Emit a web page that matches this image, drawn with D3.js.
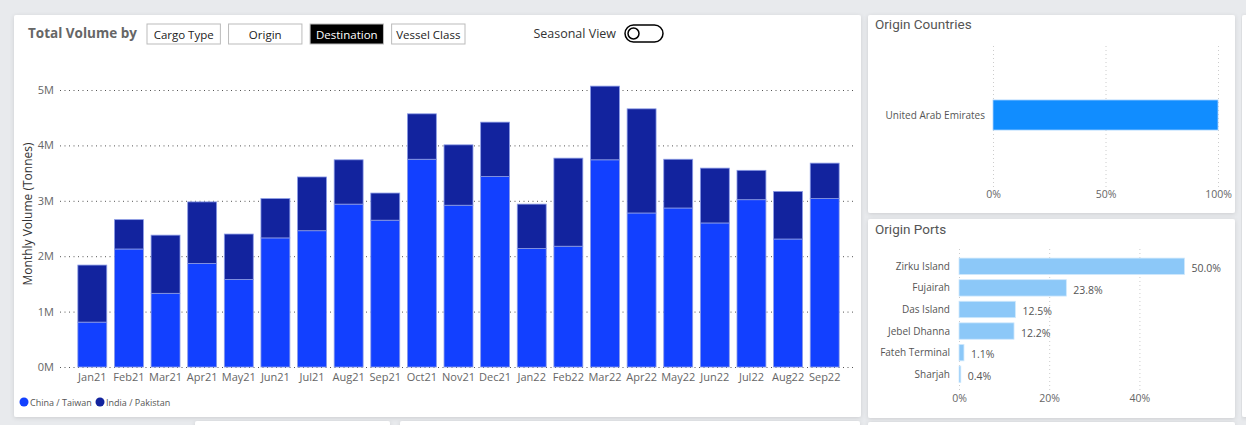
<!DOCTYPE html>
<html>
<head>
<meta charset="utf-8">
<script src="https://cdn.jsdelivr.net/npm/d3@7"></script>
<style>
  html, body { margin: 0; padding: 0; background: #e8eaed; }
  svg { display: block; font-family: "Segoe UI", "Open Sans", sans-serif; }
</style>
</head>
<body>
<div class="canvas"></div>
<script>
// monthly volumes, millions of tonnes
const months = ['Jan21','Feb21','Mar21','Apr21','May21','Jun21','Jul21','Aug21','Sep21','Oct21','Nov21','Dec21',
                'Jan22','Feb22','Mar22','Apr22','May22','Jun22','Jul22','Aug22','Sep22']
const chinaTaiwan = [0.81,2.13,1.33,1.87,1.58,2.33,2.46,2.94,2.65,3.75,2.92,3.44,2.14,2.18,3.74,2.78,2.87,2.60,3.02,2.31,3.04]
const indiaPakistan = [1.03,0.53,1.05,1.11,0.82,0.71,0.97,0.80,0.49,0.82,1.09,0.98,0.80,1.59,1.33,1.88,0.88,0.99,0.53,0.86,0.64]
const volumeTicks = [0, 1, 2, 3, 4, 5]

// right hand panels
const countries = ['United Arab Emirates']
const countryShare = [1.0]
const countryTicks = [0, 0.5, 1]
const ports = ['Zirku Island','Fujairah','Das Island','Jebel Dhanna','Fateh Terminal','Sharjah']
const portShare = [0.500, 0.238, 0.125, 0.122, 0.011, 0.004]
const portTicks = [0, 0.2, 0.4]

const buttons = ['Cargo Type', 'Origin', 'Destination', 'Vessel Class']
const activeButton = 'Destination'

const svg = d3.select('.canvas').append('svg')
    .attr('width', 1246)
    .attr('height', 425)

// card shadow
const defs = svg.append('defs')
defs.append('filter').attr('id', 'shadow')
    .attr('x', '-5%').attr('y', '-5%').attr('width', '110%').attr('height', '110%')
  .append('feDropShadow')
    .attr('dx', 0).attr('dy', 1)
    .attr('stdDeviation', 2)
    .attr('flood-color', '#000')
    .attr('flood-opacity', 0.12)

// cards
const cards = [
  [14, 15, 847, 402],
  [868, 15, 367, 198],
  [868, 219, 367, 199],
  [1242, 15, 20, 402],
  [195, 421, 195, 10],
  [400, 421, 460, 10],
  [868, 422, 367, 10]
]
svg.selectAll('rect.card').data(cards).join('rect')
    .attr('class', 'card')
    .attr('x', d => d[0]).attr('y', d => d[1])
    .attr('width', d => d[2]).attr('height', d => d[3])
    .attr('rx', 2)
    .attr('fill', '#fff')
    .attr('filter', 'url(#shadow)')

// ---------- header ----------
svg.append('text')
    .attr('x', 28).attr('y', 38)
    .attr('fill', '#666')
    .style('font-size', '13.5px')
    .style('font-weight', 700)
    .text('Total Volume by')

const btnX = d3.scaleBand().domain(buttons).range([147, 465]).paddingInner(0.1)
const btn = svg.selectAll('g.btn').data(buttons).join('g')
    .attr('class', 'btn')
    .attr('transform', d => `translate(${btnX(d)}, 24)`)
btn.append('rect')
    .attr('width', btnX.bandwidth())
    .attr('height', 20)
    .attr('fill', d => d === activeButton ? '#000' : '#fff')
    .attr('stroke', '#bbb')
btn.append('text')
    .attr('x', btnX.bandwidth() / 2).attr('y', 14.5)
    .attr('text-anchor', 'middle')
    .attr('fill', d => d === activeButton ? '#fff' : '#222')
    .style('font-size', '11.5px')
    .text(d => d)

svg.append('text')
    .attr('x', 616).attr('y', 38)
    .attr('text-anchor', 'end')
    .attr('fill', '#333')
    .style('font-size', '12.5px')
    .text('Seasonal View')
svg.append('rect')
    .attr('x', 625).attr('y', 25)
    .attr('width', 38).attr('height', 17)
    .attr('rx', 8.5)
    .attr('fill', '#fff')
    .attr('stroke', '#000')
    .attr('stroke-width', 1.5)
svg.append('circle')
    .attr('cx', 633.5).attr('cy', 33.5).attr('r', 5.5)
    .attr('fill', '#fff')
    .attr('stroke', '#000')
    .attr('stroke-width', 1.5)

// ---------- stacked column chart ----------
const x = d3.scaleBand().domain(months).range([74, 843]).paddingInner(0.21).paddingOuter(0.105)
const y = d3.scaleLinear().domain([0, 5]).range([367, 90])

const yAxis = svg.append('g')
    .attr('transform', 'translate(60, 0)')
    .call(d3.axisLeft(y).tickValues(volumeTicks).tickFormat(d => d + 'M')
      .tickSizeInner(-795).tickSizeOuter(0).tickPadding(6))
yAxis.select('.domain').remove()
yAxis.selectAll('line')
    .attr('stroke', '#555')
    .attr('stroke-dasharray', '1,3.5')
yAxis.selectAll('text')
    .attr('fill', '#666')
    .style('font-size', '11px')
    .style('font-family', '"Segoe UI", "Open Sans", sans-serif')

svg.append('text')
    .attr('transform', 'translate(32, 214) rotate(-90)')
    .attr('text-anchor', 'middle')
    .attr('fill', '#333')
    .style('font-size', '12px')
    .text('Monthly Volume (Tonnes)')

const series = [
  { name: 'China / Taiwan', color: '#1240ff', values: chinaTaiwan },
  { name: 'India / Pakistan', color: '#12239e', values: indiaPakistan }
]

const cols = svg.append('g')
months.forEach((m, i) => {
  let base = 0
  series.forEach(s => {
    const v = s.values[i]
    cols.append('rect')
        .attr('x', x(m))
        .attr('y', y(base + v))
        .attr('width', x.bandwidth())
        .attr('height', y(base) - y(base + v))
        .attr('fill', s.color)
        .attr('stroke', '#8b9be6')
        .attr('stroke-width', 0.8)
    base += v
  })
})

const xAxis = svg.append('g')
    .attr('transform', 'translate(0, 367)')
    .call(d3.axisBottom(x).tickSize(0).tickPadding(6))
xAxis.select('.domain').remove()
xAxis.selectAll('text')
    .attr('fill', '#666')
    .style('font-size', '11px')
    .style('font-family', '"Segoe UI", "Open Sans", sans-serif')

// legend
const legendX = [24, 100]
series.forEach((s, i) => {
  svg.append('circle')
      .attr('cx', legendX[i]).attr('cy', 402).attr('r', 4.5)
      .attr('fill', s.color)
  svg.append('text')
      .attr('x', legendX[i] + 6).attr('y', 405.5)
      .attr('fill', '#555')
      .style('font-size', '9px')
      .text(s.name)
})

// ---------- origin countries ----------
svg.append('text')
    .attr('x', 875).attr('y', 29)
    .attr('fill', '#555')
    .style('font-size', '13.5px')
    .style('font-family', 'Roboto, sans-serif')
    .text('Origin Countries')

const cx = d3.scaleLinear().domain([0, 1]).range([993, 1218])
const cy = d3.scaleBand().domain(countries).range([45, 185]).paddingInner(0).paddingOuter(1.83)

const cAxis = svg.append('g')
    .attr('transform', 'translate(0, 187)')
    .call(d3.axisBottom(cx).tickValues(countryTicks).tickFormat(d3.format('.0%'))
      .tickSizeInner(-142).tickSizeOuter(0).tickPadding(4))
cAxis.select('.domain').remove()
cAxis.selectAll('line')
    .attr('stroke', '#ccc')
    .attr('stroke-dasharray', '1,3')
cAxis.selectAll('text')
    .attr('fill', '#666')
    .style('font-size', '10.5px')
    .style('font-family', '"Segoe UI", "Open Sans", sans-serif')

svg.selectAll('rect.country').data(countries).join('rect')
    .attr('class', 'country')
    .attr('x', cx(0))
    .attr('y', d => cy(d))
    .attr('width', (d, i) => cx(countryShare[i]) - cx(0))
    .attr('height', cy.bandwidth())
    .attr('fill', '#118dff')
    .attr('stroke', '#a8d3ff')
    .attr('stroke-width', 0.8)

svg.selectAll('text.country').data(countries).join('text')
    .attr('class', 'country')
    .attr('x', 985)
    .attr('y', d => cy(d) + cy.bandwidth() / 2)
    .attr('dy', '0.35em')
    .attr('text-anchor', 'end')
    .attr('fill', '#555')
    .style('font-size', '10px')
    .text(d => d)

// ---------- origin ports ----------
svg.append('text')
    .attr('x', 875).attr('y', 234)
    .attr('fill', '#555')
    .style('font-size', '13.5px')
    .style('font-family', 'Roboto, sans-serif')
    .text('Origin Ports')

const px = d3.scaleLinear().domain([0, 0.5]).range([959, 1184.5])
const py = d3.scaleBand().domain(ports).range([255.5, 385]).paddingInner(0.24).paddingOuter(0.12)

const pAxis = svg.append('g')
    .attr('transform', 'translate(0, 390)')
    .call(d3.axisBottom(px).tickValues(portTicks).tickFormat(d3.format('.0%'))
      .tickSizeInner(-141).tickSizeOuter(0).tickPadding(5))
pAxis.select('.domain').remove()
pAxis.selectAll('line')
    .attr('stroke', '#ccc')
    .attr('stroke-dasharray', '1,3')
pAxis.selectAll('text')
    .attr('fill', '#666')
    .style('font-size', '10.5px')
    .style('font-family', '"Segoe UI", "Open Sans", sans-serif')

svg.selectAll('rect.port').data(ports).join('rect')
    .attr('class', 'port')
    .attr('x', px(0))
    .attr('y', d => py(d))
    .attr('width', (d, i) => px(portShare[i]) - px(0))
    .attr('height', py.bandwidth())
    .attr('fill', '#8cc8f8')
    .attr('stroke', '#cfe8fc')
    .attr('stroke-width', 0.8)

svg.selectAll('text.port').data(ports).join('text')
    .attr('class', 'port')
    .attr('x', 950)
    .attr('y', d => py(d) + py.bandwidth() / 2)
    .attr('dy', '0.35em')
    .attr('text-anchor', 'end')
    .attr('fill', '#555')
    .style('font-size', '10px')
    .text(d => d)

svg.selectAll('text.share').data(ports).join('text')
    .attr('class', 'share')
    .attr('x', (d, i) => px(portShare[i]) + 7)
    .attr('y', d => py(d) + py.bandwidth() / 2 + 2)
    .attr('dy', '0.35em')
    .attr('fill', '#555')
    .style('font-size', '10.5px')
    .text((d, i) => d3.format('.1%')(portShare[i]))
</script>
</body>
</html>
